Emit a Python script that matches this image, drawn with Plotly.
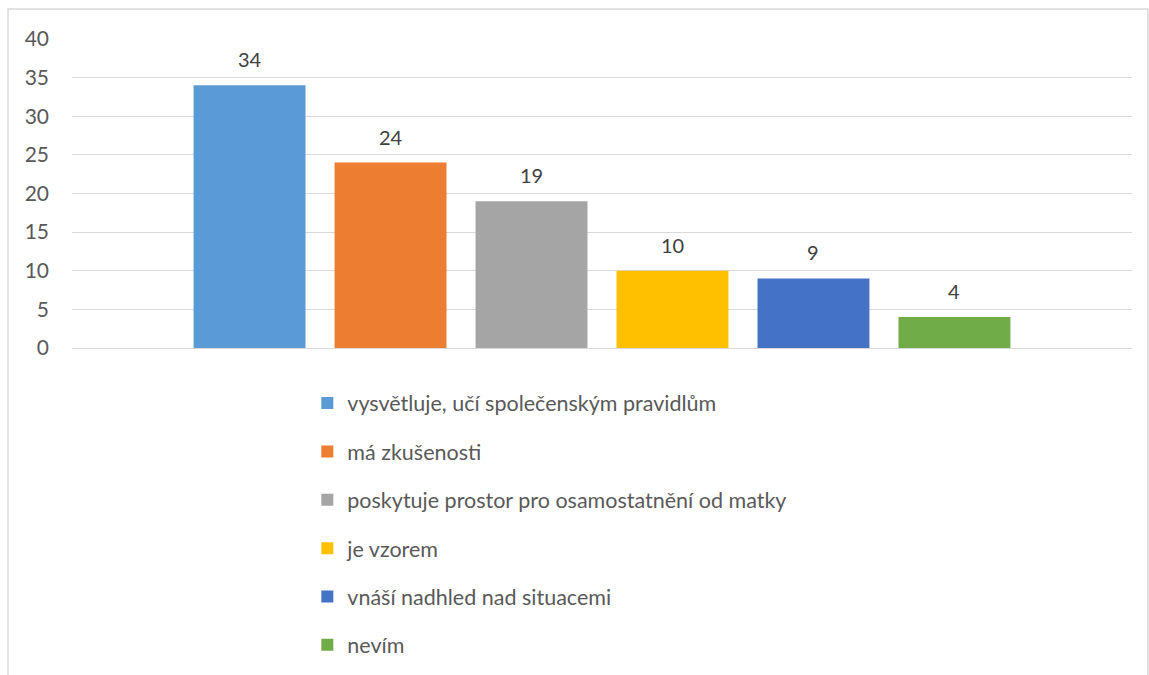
import plotly.graph_objects as go

categories = ["vysvětluje, učí společenským pravidlům", "má zkušenosti",
              "poskytuje prostor pro osamostatnění od matky", "je vzorem",
              "vnáší nadhled nad situacemi", "nevím"]
values = [34, 24, 19, 10, 9, 4]
colors = ["#5B9BD5", "#ED7D31", "#A5A5A5", "#FFC000", "#4472C4", "#70AD47"]
yticks = [0, 5, 10, 15, 20, 25, 30, 35, 40]
group = "odpovědi"

W, H = 1149, 675
ML, MR, MT, MB = 72, 17, 39, 327
BARGAP = 0.202
plot_w = W - ML - MR
plot_h = H - MT - MB
pitch = plot_w * (1 - BARGAP) / len(values)

fig = go.Figure()
for i, (name, v, c) in enumerate(zip(categories, values, colors)):
    fig.add_trace(go.Bar(x=[group], y=[v], name=name, marker=dict(color=c, line=dict(width=0)),
                         legendgroup=f"g{i}", hoverinfo="name+y"))
    fig.add_annotation(x=group, y=v, text=str(v), showarrow=False, xref="x", yref="y",
                       xshift=(i - (len(values) - 1) / 2) * pitch, yshift=26,
                       font=dict(size=20, color="#404040", family="Lato"))

fig.update_layout(
    width=W, height=H,
    margin=dict(l=ML, r=MR, t=MT, b=MB, autoexpand=False),
    paper_bgcolor="white", plot_bgcolor="white",
    barmode="group", bargap=BARGAP, bargroupgap=0.206,
    font=dict(family="Lato", color="#595959", size=21.5),
    showlegend=True,
    legend=dict(orientation="v", x=0.222, xanchor="left", y=-0.112, yanchor="top",
                tracegroupgap=17.4, font=dict(size=21.5, color="#595959"),
                itemwidth=30, bgcolor="rgba(0,0,0,0)"),
    xaxis=dict(type="category", showticklabels=False, showgrid=False, zeroline=False, showline=False),
    yaxis=dict(range=[0, 40], tickvals=yticks, showgrid=True, gridcolor="#D9D9D9", gridwidth=1,
               zeroline=True, zerolinecolor="#D9D9D9", zerolinewidth=1, showline=False,
               ticks="", ticklabelstandoff=22, tickfont=dict(size=21, color="#595959")),
    shapes=[dict(type="rect", xref="paper", yref="paper",
                 x0=(8 - ML) / plot_w, x1=(1148 - ML) / plot_w,
                 y0=-1.2, y1=(H - MB - 9) / plot_h,
                 line=dict(color="#D9D9D9", width=1.5), fillcolor="rgba(0,0,0,0)", layer="below")],
)

fig.write_html("out.html", config={"displayModeBar": False},
               post_script="document.body.style.margin='0';document.body.style.overflow='hidden';")
